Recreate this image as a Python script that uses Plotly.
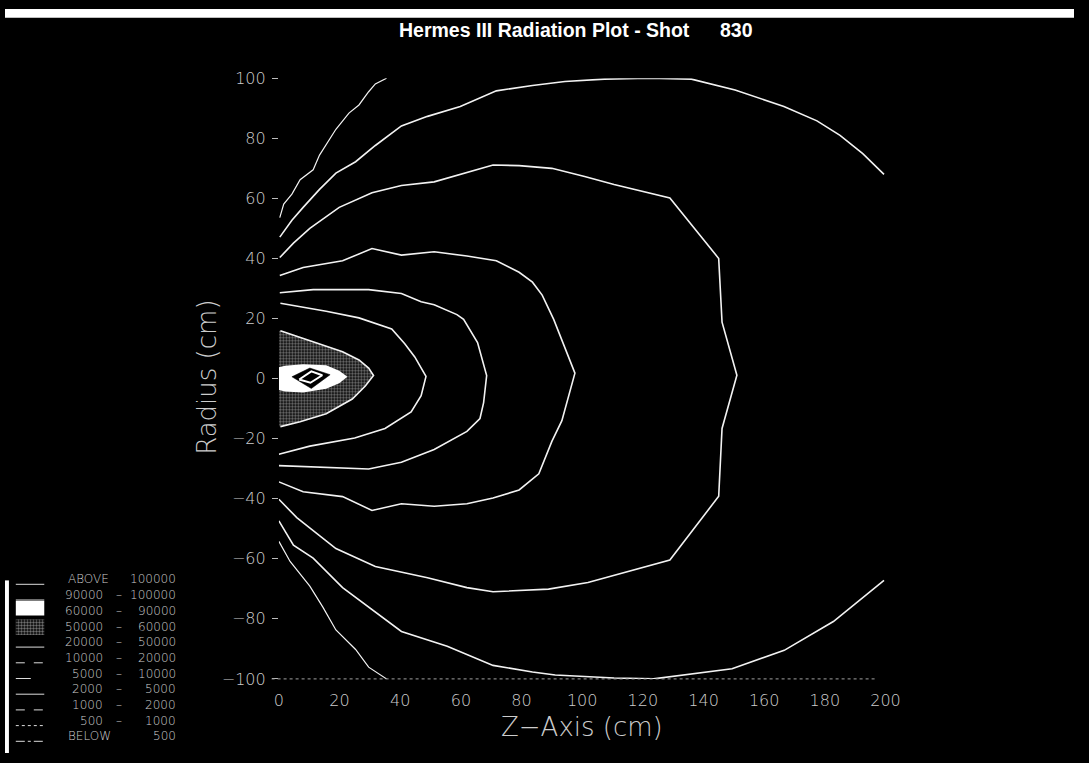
import plotly.graph_objects as go

# ---------------- data ----------------
# contour polylines: z = axial position (cm), r = radius (cm); None breaks a line
c500_z = [35.5, 31.8, 29.6, 26.4, 23.1, 18.8, 13.4, 11.3, 7.0, 4.3, 1.6, 0.3, None,
          0.0, 3.7, 10.2, 14.5, 18.8, 25.3, 29.6, 35.5]
c500_r = [100, 98.1, 95.5, 91.1, 88.4, 83.0, 74.4, 69.5, 66.2, 61.4, 58.1, 53.6, None,
          -54.2, -60.9, -69.1, -76.1, -83.7, -90.2, -96.1, -100]

c1000_z = [0.3, 4.3, 8.0, 13.4, 18.8, 25.3, 31.8, 40.4, 49.0, 59.8, 71.7, 83.6, 94.3, 107.3,
           122.0, 136.0, 150.4, 166.5, 177.4, 185.0, 192.5, 199.5, None,
           199.5, 191.4, 182.8, 166.6, 149.4, 123.5, 110.5, 91.1, 83.6, 70.6, 55.5, 40.4,
           29.6, 21.0, 11.3, 4.8, 0.0]
c1000_r = [47.1, 52.7, 57.0, 63.0, 68.4, 72.2, 77.6, 84.1, 87.3, 90.6, 95.8, 97.6, 98.9, 99.7,
           100.0, 99.7, 96.1, 90.6, 85.8, 81.0, 74.9, 68.0, None,
           -67.2, -74.0, -80.9, -90.5, -96.6, -100.0, -99.7, -98.7, -97.7, -95.5, -89.1, -84.2,
           -76.1, -69.6, -59.8, -55.5, -47.4]

c2000_z = [0.3, 4.8, 10.2, 19.9, 30.7, 40.4, 51.2, 59.8, 70.6, 79.2, 90.0, 100.8, 110.5, 128.9,
           145.0, 146.1, 151.0, 146.1, 145.0, 128.9, 101.9, 88.9, 70.6, 62.0, 49.0, 31.8,
           18.8, 5.9, 0.0]
c2000_r = [40.3, 45.1, 50.0, 57.0, 61.9, 64.3, 65.5, 67.9, 71.1, 70.9, 70.0, 67.3, 64.6, 60.1,
           40.0, 18.8, 1.1, -16.6, -39.2, -60.4, -67.9, -70.1, -71.0, -69.6, -66.3, -62.6,
           -56.6, -46.3, -40.2]

c5000_z = [0.3, 8.0, 21.0, 30.7, 40.4, 51.2, 62.0, 71.7, 79.2, 83.6, 86.8, 90.6, 97.6, 93.3,
           90.0, 85.7, 79.2, 70.6, 62.0, 51.2, 40.4, 30.7, 21.0, 8.0, 0.0]
c5000_r = [34.3, 37.0, 39.2, 43.3, 41.1, 42.2, 40.8, 39.2, 35.4, 32.1, 27.8, 19.7, 1.8, -14.0,
           -20.9, -31.7, -37.1, -39.8, -41.7, -42.5, -41.7, -43.9, -39.3, -37.7, -34.4]

c10000_z = [0.3, 11.3, 29.6, 40.4, 46.9, 51.2, 58.7, 60.9, 65.5, 68.5, 67.5, 66.3, 62.0, 51.2,
            40.4, 29.6, 0.0]
c10000_r = [28.6, 29.6, 29.6, 28.3, 25.6, 24.6, 21.3, 19.7, 12.0, 1.0, -8.0, -13.3, -17.6,
            -23.6, -27.9, -30.1, -29.0]

c20000_z = [0.5, 15.6, 26.4, 37.2, 41.5, 44.8, 48.5, 46.9, 43.6, 39.3, 35.0, 25.0, 10.2, 0.0]
c20000_r = [25.1, 22.4, 20.2, 16.5, 11.6, 7.2, 0.7, -5.7, -11.1, -13.8, -16.6, -19.8, -22.5, -25.2]

c50000_z = [0.0, 0.5, 10.2, 21.0, 26.4, 29.6, 31.2, 28.5, 24.2, 15.6, 7.0, 0.5, 0.0]
c50000_r = [15.9, 15.9, 12.7, 8.9, 6.2, 3.5, 1.0, -2.5, -6.8, -11.7, -14.4, -16.0, -16.0]

c60000_z = [0.0, 2.0, 8.0, 15.6, 19.9, 22.6, 19.9, 15.6, 8.0, 2.0, 0.0]
c60000_r = [3.8, 4.3, 4.8, 4.4, 2.6, 0.6, -1.6, -3.4, -4.6, -4.3, -3.8]

c90000_z = [4.3, 10.2, 16.9, 10.7, 4.3]
c90000_r = [0.6, 3.5, 1.3, -3.3, 0.6]

c100000_z = [6.7, 10.7, 14.3, 10.4, 6.7]
c100000_r = [-0.3, 2.4, 1.1, -1.4, -0.3]

x_ticks = [0, 20, 40, 60, 80, 100, 120, 140, 160, 180, 200]
y_ticks = [-100, -80, -60, -40, -20, 0, 20, 40, 60, 80, 100]

legend_lo = ["ABOVE", "90000", "60000", "50000", "20000", "10000", "5000", "2000", "1000", "500", "BELOW"]
legend_hi = ["100000", "100000", "90000", "60000", "50000", "20000", "10000", "5000", "2000", "1000", "500"]

# ---------------- layout geometry ----------------
W, H = 1089, 763
PX_L, PX_R, PY_T, PY_B = 279, 897, 71, 687
LINE = "#f2f2f2"
TXT = "#cccccc"
LIGHT = dict(family="DejaVu Sans", weight=200, color=TXT)

fig = go.Figure()

# filled inner regions
fig.add_trace(go.Scatter(x=c50000_z, y=c50000_r, mode="lines", fill="toself",
                         fillcolor="black", line=dict(width=0),
                         fillpattern=dict(shape=".", fgcolor="#e0e0e0", bgcolor="black",
                                          size=3, solidity=0.5),
                         hoverinfo="skip", xaxis="x", yaxis="y"))
fig.add_trace(go.Scatter(x=c60000_z, y=c60000_r, mode="lines", fill="toself",
                         fillcolor="white", line=dict(width=0, color="white"),
                         hoverinfo="skip", xaxis="x", yaxis="y"))
fig.add_trace(go.Scatter(x=c90000_z, y=c90000_r, mode="lines", fill="toself",
                         fillcolor="black", line=dict(width=0.5, color="black"),
                         hoverinfo="skip", xaxis="x", yaxis="y"))
fig.add_trace(go.Scatter(x=c100000_z, y=c100000_r, mode="lines", fill="toself",
                         fillcolor="black", line=dict(width=2, color="white"),
                         hoverinfo="skip", xaxis="x", yaxis="y"))

# contour lines
for zs, rs, w in [(c500_z, c500_r, 1.2), (c1000_z, c1000_r, 1.6), (c2000_z, c2000_r, 1.6),
                  (c5000_z, c5000_r, 1.6), (c10000_z, c10000_r, 1.6),
                  (c20000_z, c20000_r, 1.6), (c50000_z[1:-1], c50000_r[1:-1], 1.6)]:
    fig.add_trace(go.Scatter(x=zs, y=rs, mode="lines", connectgaps=False,
                             line=dict(color=LINE, width=w), hoverinfo="skip",
                             xaxis="x", yaxis="y"))

# legend stipple swatch (pixel overlay axes)
fig.add_trace(go.Scatter(x=[11, 40, 40, 11, 11], y=[626, 626, 642, 642, 626], mode="lines",
                         fill="toself", fillcolor="black", line=dict(width=0),
                         fillpattern=dict(shape=".", fgcolor="#e0e0e0", bgcolor="black",
                                          size=3, solidity=0.5),
                         hoverinfo="skip", xaxis="x2", yaxis="y2"))

shapes = []
annotations = []

# top white strip & left border strip
shapes.append(dict(type="rect", xref="x2", yref="y2", x0=0, x1=W, y0=0, y1=9,
                   fillcolor="white", line=dict(width=0), layer="below"))
shapes.append(dict(type="rect", xref="x2", yref="y2", x0=0, x1=4, y0=586, y1=H,
                   fillcolor="white", line=dict(width=0), layer="below"))
# dotted baseline
shapes.append(dict(type="line", xref="x domain", yref="y domain", x0=-0.012, x1=0.985,
                   y0=0, y1=0, line=dict(color="#a0a0a0", width=1, dash="dot")))

# legend rows
row_y = [585 + 16.1 * i for i in range(len(legend_lo))]
for i, (lo, hi) in enumerate(zip(legend_lo, legend_hi)):
    y = row_y[i]
    if lo in ("ABOVE", "BELOW"):
        annotations.append(dict(x=62, y=y, xref="x2", yref="y2", text=lo, showarrow=False,
                                xanchor="left", font=dict(size=12, **LIGHT)))
    else:
        annotations.append(dict(x=102, y=y, xref="x2", yref="y2", text=lo, showarrow=False,
                                xanchor="right", font=dict(size=12, **LIGHT)))
        annotations.append(dict(x=116, y=y, xref="x2", yref="y2", text="–", showarrow=False,
                                xanchor="center", font=dict(size=12, **LIGHT)))
    annotations.append(dict(x=176, y=y, xref="x2", yref="y2", text=hi, showarrow=False,
                            xanchor="right", font=dict(size=12, **LIGHT)))
    if i == 2:
        shapes.append(dict(type="rect", xref="x2", yref="y2", x0=11, x1=40, y0=607, y1=622,
                           fillcolor="white", line=dict(width=0)))
    elif i == 3:
        pass
    else:
        dash = ["solid", "solid", None, None, "solid", "dash", "longdash", "solid",
                "dash", "dot", "dashdot"][i]
        shapes.append(dict(type="line", xref="x2", yref="y2", x0=11, x1=40, y0=y + 5, y1=y + 5,
                           line=dict(color="#dddddd", width=1, dash=dash)))

# title
annotations.append(dict(x=700, y=22, xref="x2", yref="y2", xanchor="right",
                        text="<b>Hermes III Radiation Plot - Shot</b>",
                        showarrow=False, font=dict(family="Liberation Sans", size=19.5, color="white")))
annotations.append(dict(x=764, y=22, xref="x2", yref="y2", xanchor="right", text="<b>830</b>",
                        showarrow=False, font=dict(family="Liberation Sans", size=19.5, color="white")))
# axis titles
annotations.append(dict(x=(PX_L + PX_R) / 2, y=736, xref="x2", yref="y2", text="Z−Axis (cm)",
                        showarrow=False, font=dict(size=26, **LIGHT)))
annotations.append(dict(x=205, y=378, xref="x2", yref="y2", text="Radius (cm)", textangle=-90,
                        showarrow=False, font=dict(size=26, **LIGHT)))

fig.update_layout(
    width=W, height=H,
    margin=dict(l=0, r=0, t=0, b=0),
    paper_bgcolor="black", plot_bgcolor="rgba(0,0,0,0)",
    showlegend=False,
    xaxis=dict(domain=[PX_L / W, PX_R / W], range=[0, 200], tickvals=x_ticks,
               showgrid=False, zeroline=False, showline=False, ticks="",
               ticklabelstandoff=10, tickfont=dict(size=16, **LIGHT), anchor="y"),
    yaxis=dict(domain=[(H - PY_B) / H, (H - PY_T) / H], range=[-100, 100], tickvals=y_ticks,
               showgrid=False, zeroline=False, showline=False, ticks="outside", ticklen=6,
               tickcolor="#bbbbbb", ticklabelstandoff=3,
               tickfont=dict(size=16, **LIGHT), anchor="x"),
    xaxis2=dict(domain=[0, 1], range=[0, W], visible=False, anchor="y2", fixedrange=True),
    yaxis2=dict(domain=[0, 1], range=[H, 0], visible=False, anchor="x2", fixedrange=True),
    shapes=shapes,
    annotations=annotations,
)

fig.write_html("out.html", config={"displayModeBar": False, "staticPlot": True},
               post_script="document.body.style.margin='0';document.body.style.background='black';"
                           "document.body.style.overflow='hidden';")
